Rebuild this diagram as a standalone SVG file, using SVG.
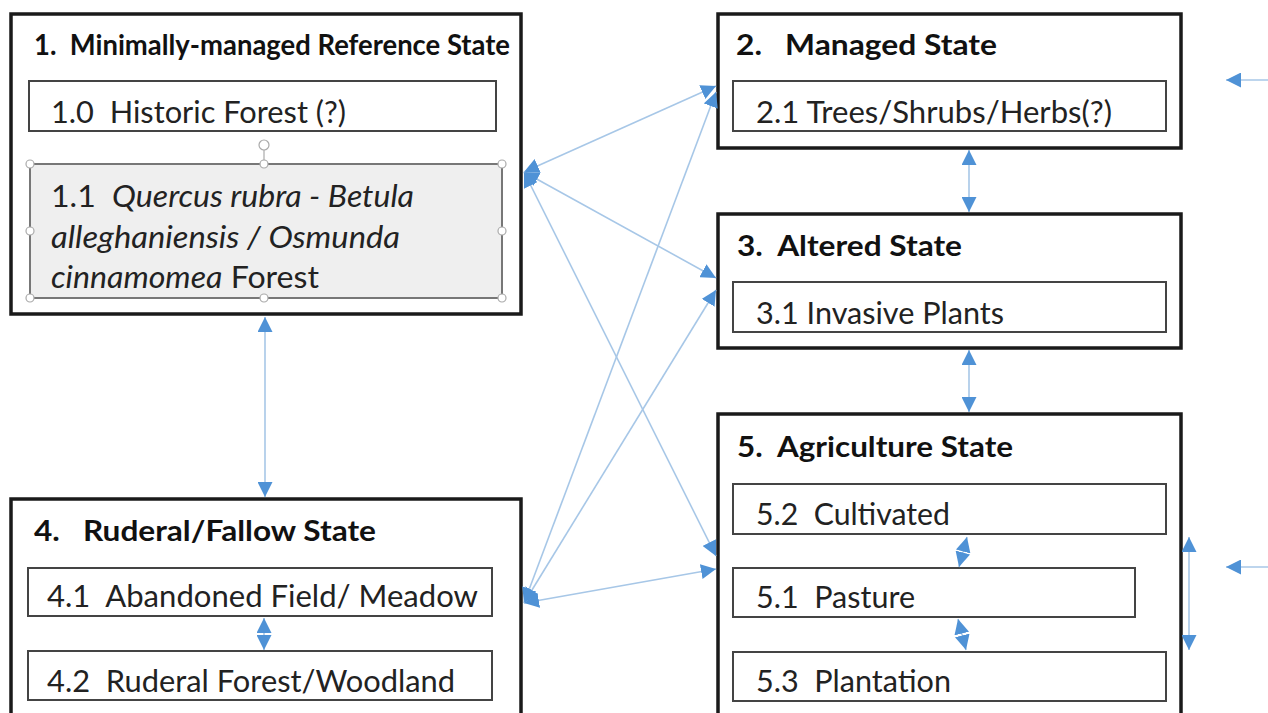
<svg xmlns="http://www.w3.org/2000/svg" width="1268" height="713" viewBox="0 0 1268 713">
<defs>
<style>
text{white-space:pre}
.outer{fill:#fff;stroke:#1a1a1a;stroke-width:3.5}
.inner{fill:#fff;stroke:#444;stroke-width:2}
.sel{fill:#efefef;stroke:#777;stroke-width:2}
.title{font-family:Lato,"Liberation Sans",sans-serif;font-weight:bold;font-size:29px;fill:#111}
.lbl{font-family:Lato,"Liberation Sans",sans-serif;font-size:31px;fill:#222}
.it{font-style:italic}
.con{stroke:#a7c7e7;stroke-width:1.6;fill:none}
.handle{fill:#fff;stroke:#aaa;stroke-width:1.2}
</style>
<marker id="ah" viewBox="0 0 10 10" refX="10" refY="5" markerWidth="15" markerHeight="15" markerUnits="userSpaceOnUse" orient="auto-start-reverse">
<path d="M0,0 L10,5 L0,10 z" fill="#4f92d6"/>
</marker>
</defs>
<rect width="1268" height="713" fill="#fff"/>

<g id="state1">
<rect class="outer" x="11" y="14" width="510" height="300"/>
<text class="title" x="34" y="55" textLength="476" lengthAdjust="spacingAndGlyphs">1.  Minimally-managed Reference State</text>
<rect class="inner" x="29" y="81" width="467" height="50"/>
<text class="lbl" x="51" y="123" textLength="295" lengthAdjust="spacingAndGlyphs">1.0  Historic Forest (?)</text>
<rect class="sel" x="30" y="164" width="472" height="134"/>
<text class="lbl" x="51" y="207" textLength="363" lengthAdjust="spacingAndGlyphs">1.1  <tspan class="it">Quercus rubra - Betula</tspan></text>
<text class="lbl it" x="51" y="248" textLength="349" lengthAdjust="spacingAndGlyphs">alleghaniensis / Osmunda</text>
<text class="lbl" x="51" y="288" textLength="268" lengthAdjust="spacingAndGlyphs"><tspan class="it">cinnamomea</tspan> Forest</text>
<line x1="264" y1="150" x2="264" y2="164" stroke="#aaa" stroke-width="1.2"/>
<circle class="handle" cx="264" cy="145" r="5"/>
<circle class="handle" cx="30" cy="164" r="4"/>
<circle class="handle" cx="264" cy="164" r="4"/>
<circle class="handle" cx="502" cy="164" r="4"/>
<circle class="handle" cx="30" cy="231" r="4"/>
<circle class="handle" cx="502" cy="231" r="4"/>
<circle class="handle" cx="30" cy="298" r="4"/>
<circle class="handle" cx="264" cy="298" r="4"/>
<circle class="handle" cx="502" cy="298" r="4"/>
</g>

<g id="state2">
<rect class="outer" x="718" y="14" width="463" height="134"/>
<text class="title" x="736" y="55" textLength="261" lengthAdjust="spacingAndGlyphs">2.   Managed State</text>
<rect class="inner" x="733" y="81" width="433" height="50"/>
<text class="lbl" x="756" y="123" textLength="356" lengthAdjust="spacingAndGlyphs">2.1 Trees/Shrubs/Herbs(?)</text>
</g>

<g id="state3">
<rect class="outer" x="718" y="214" width="463" height="134"/>
<text class="title" x="737" y="256" textLength="225" lengthAdjust="spacingAndGlyphs">3.  Altered State</text>
<rect class="inner" x="733" y="282" width="433" height="50"/>
<text class="lbl" x="756" y="324" textLength="248" lengthAdjust="spacingAndGlyphs">3.1 Invasive Plants</text>
</g>

<g id="state4">
<rect class="outer" x="11" y="499" width="510" height="240"/>
<text class="title" x="34" y="541" textLength="342" lengthAdjust="spacingAndGlyphs">4.   Ruderal/Fallow State</text>
<rect class="inner" x="28" y="568" width="464" height="48"/>
<text class="lbl" x="47" y="607" textLength="431" lengthAdjust="spacingAndGlyphs">4.1  Abandoned Field/ Meadow</text>
<rect class="inner" x="28" y="651" width="464" height="49"/>
<text class="lbl" x="47" y="692" textLength="408" lengthAdjust="spacingAndGlyphs">4.2  Ruderal Forest/Woodland</text>
</g>

<g id="state5">
<rect class="outer" x="718" y="414" width="463" height="330"/>
<text class="title" x="737" y="457" textLength="276" lengthAdjust="spacingAndGlyphs">5.  Agriculture State</text>
<rect class="inner" x="733" y="484" width="433" height="50"/>
<text class="lbl" x="756" y="525" textLength="194" lengthAdjust="spacingAndGlyphs">5.2  Cultivated</text>
<rect class="inner" x="733" y="568" width="402" height="49"/>
<text class="lbl" x="756" y="608" textLength="159" lengthAdjust="spacingAndGlyphs">5.1  Pasture</text>
<rect class="inner" x="733" y="652" width="433" height="49"/>
<text class="lbl" x="756" y="692" textLength="195" lengthAdjust="spacingAndGlyphs">5.3  Plantation</text>
</g>

<g id="connectors">
<line class="con" x1="524" y1="172" x2="716" y2="86" marker-start="url(#ah)" marker-end="url(#ah)"/>
<line class="con" x1="524" y1="172" x2="716" y2="278" marker-start="url(#ah)" marker-end="url(#ah)"/>
<line class="con" x1="524" y1="172" x2="716" y2="556" marker-start="url(#ah)" marker-end="url(#ah)"/>
<line class="con" x1="524" y1="603" x2="716" y2="92" marker-start="url(#ah)" marker-end="url(#ah)"/>
<line class="con" x1="524" y1="603" x2="716" y2="290" marker-start="url(#ah)" marker-end="url(#ah)"/>
<line class="con" x1="524" y1="603" x2="716" y2="569" marker-start="url(#ah)" marker-end="url(#ah)"/>
<line class="con" x1="265" y1="317" x2="265" y2="497" marker-start="url(#ah)" marker-end="url(#ah)"/>
<line class="con" x1="969" y1="150" x2="969" y2="212" marker-start="url(#ah)" marker-end="url(#ah)"/>
<line class="con" x1="969" y1="350" x2="969" y2="412" marker-start="url(#ah)" marker-end="url(#ah)"/>
<line class="con" x1="264" y1="618" x2="264" y2="650" marker-start="url(#ah)" marker-end="url(#ah)"/>
<line class="con" x1="967" y1="537" x2="959" y2="567" marker-start="url(#ah)" marker-end="url(#ah)"/>
<line class="con" x1="958" y1="619" x2="966" y2="650" marker-start="url(#ah)" marker-end="url(#ah)"/>
<line class="con" x1="1189" y1="537" x2="1189" y2="650" marker-start="url(#ah)" marker-end="url(#ah)"/>
<line class="con" x1="1268" y1="80" x2="1226" y2="80" marker-end="url(#ah)"/>
<line class="con" x1="1268" y1="567" x2="1226" y2="567" marker-end="url(#ah)"/>
</g>
</svg>
